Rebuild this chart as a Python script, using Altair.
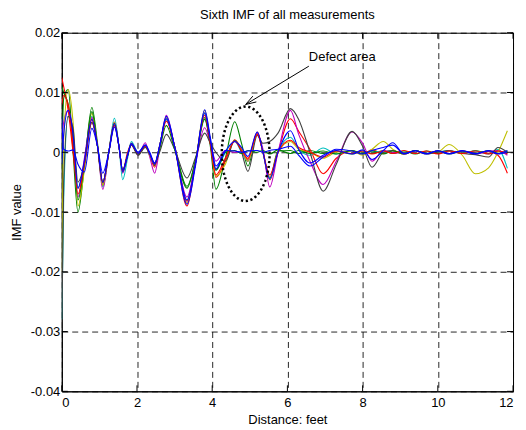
import math
import altair as alt
import pandas as pd

X = [0.00, 0.05, 0.17, 0.30, 0.43, 0.60, 0.80, 0.95, 1.09, 1.25,
     1.40, 1.52, 1.62, 1.75, 1.85, 2.03, 2.22, 2.34, 2.47, 2.60,
     2.78, 3.00, 3.33, 3.55, 3.80, 3.95, 4.10, 4.35, 4.60, 4.78,
     4.95, 5.20, 5.35, 5.53, 5.75, 6.08, 6.30, 6.60, 6.95, 7.30,
     7.72, 8.00, 8.25, 8.55, 8.80, 9.10, 9.40, 9.70, 10.00, 10.30,
     10.65, 11.00, 11.35, 11.60, 11.85]

# IMF values in units of 1e-3
green_a = [-3.0, 9.0, 10.5, 0.0, -10.0, -2.5, 7.5, 1.5, -5.5, 0.0,
           5.0, 1.0, -3.3, -0.5, 1.5, -0.3, 1.0, -0.5, -2.2, 1.0,
           5.5, 1.0, -5.7, -1.5, 5.8, 1.0, -6.2, -1.0, 5.1, 1.5,
           -2.3, 3.2, 0.0, -4.3, 0.2, 0.3, -0.2, 0.3, -0.2, 0.2,
           -0.3, 0.2, -0.2, 0.3, -0.2, 0.2, -0.3, 0.2, -0.2, 0.2,
           -0.2, 0.3, -0.2, 0.2, -0.3]
red_a = [12.5, 11.0, 7.0, 0.0, -6.0, -2.0, 5.0, 1.0, -5.5, 0.0,
         5.0, 1.0, -3.0, 0.0, 1.3, 0.0, 1.0, -0.5, -2.5, 1.0,
         5.5, 1.0, -9.0, -2.0, 6.5, 1.5, -4.2, -1.5, 2.1, 0.5,
         -1.2, 3.4, 0.0, -4.6, 0.0, 5.6, 3.5, 0.5, -3.6, -1.0,
         0.3, -0.3, 0.4, -0.2, 0.3, -0.3, 0.2, -0.3, 0.1, -0.2,
         0.2, -0.2, 0.1, -0.5, -3.5]
cyan_a = [-28.0, -8.0, 6.0, 3.0, -6.0, -1.5, 6.0, 1.0, -5.8, 0.0,
          5.7, 1.0, -4.6, -1.0, 1.8, 0.0, 1.0, -0.5, -2.0, 1.0,
          5.5, 1.0, -8.0, -2.0, 6.5, 2.0, -3.0, 0.0, 1.8, 0.0,
          -1.5, 3.3, 0.0, -4.5, 0.0, 2.5, 0.5, -0.5, 0.7, -0.3,
          0.3, -0.3, 0.2, 0.0, 0.3, -0.2, 0.3, -0.3, 0.0, 0.3,
          -0.2, 0.2, -0.3, 0.5, -2.7]
magenta_a = [2.0, 5.0, 7.0, 3.0, -7.5, -1.0, 5.8, 1.0, -6.2, 0.0,
             5.0, 1.0, -3.5, -0.3, 1.5, -0.5, 1.6, -0.8, -3.5, 0.5,
             6.2, 1.0, -7.5, -2.0, 4.1, 1.5, -1.5, 0.3, 0.0, 0.1,
             -1.5, 3.2, 0.5, -5.8, 0.0, 7.0, 3.0, -1.5, -5.4, -1.5,
             3.4, 1.5, -1.5, 0.3, 0.0, -0.2, 0.3, -0.2, 0.2, -0.2,
             0.2, -0.3, 0.2, 0.3, -0.5]
yellow_a = [-20.0, 2.0, 10.5, 5.0, -9.0, -3.0, 6.5, 1.0, -5.5, 0.0,
            5.0, 1.0, -3.3, -0.5, 1.5, -0.2, 1.2, -0.5, -2.0, 1.0,
            5.8, 1.0, -8.5, -2.0, 7.0, 2.0, -4.0, -2.0, 2.0, 0.5,
            -1.5, 3.0, 0.0, -4.2, 0.0, 1.8, 0.5, 0.0, -1.0, 0.0,
            0.2, -0.5, 0.5, 1.8, 0.5, -0.3, 0.3, -0.2, 0.0, 1.3,
            -0.5, -3.6, -2.6, 0.0, 3.6]
black_a = [-30.0, -5.0, 6.0, 4.0, -5.0, -2.0, 5.0, 1.0, -5.0, 0.0,
           4.5, 1.0, -3.0, -0.5, 1.2, -0.5, 0.8, -0.3, -1.8, 0.0,
           3.0, 0.5, -4.3, -1.0, 3.2, 1.5, 0.0, -1.5, 2.0, 0.0,
           -3.2, 2.8, 1.5, 1.8, 3.2, 7.3, 5.5, 0.0, -6.5, -2.0,
           3.5, 1.0, -2.5, 0.0, 0.3, -0.3, 0.3, -0.2, 0.0, 0.3,
           -0.2, -0.4, -0.8, 0.8, 0.0]
green_b = [11.0, 10.0, 8.0, 2.0, -8.0, -2.0, 6.8, 1.0, -5.0, 0.0,
           4.8, 1.0, -3.0, -0.5, 1.4, -0.3, 1.0, -0.3, -2.0, 0.5,
           4.5, 0.5, -6.0, -1.5, 5.5, 1.5, -3.0, 0.0, 0.3, -0.2,
           0.3, 0.0, 0.3, -0.3, 0.4, -0.2, 0.3, -0.2, 0.2, -0.3,
           0.3, -0.2, 0.2, -0.3, 0.2, -0.2, 0.3, -0.2, 0.2, -0.3,
           0.2, -0.2, 0.3, -0.2, 0.2]
red_b = [8.0, 9.5, 8.0, 1.0, -7.0, -2.0, 5.5, 1.0, -5.0, 0.0,
         4.5, 1.0, -3.2, -0.5, 1.3, -0.2, 1.0, -0.3, -2.0, 1.0,
         5.2, 1.0, -8.2, -2.0, 6.2, 1.5, -3.8, -1.0, 1.8, 0.3,
         -1.0, 3.0, 0.0, -3.8, 0.0, 2.0, 0.8, 0.0, -0.8, 0.2,
         -0.2, 0.2, -0.3, 0.2, -0.2, 0.3, -0.2, 0.2, -0.3, 0.2,
         -0.2, 0.2, -0.3, 0.2, -0.2]
blue_b = [-2.0, 3.0, 7.0, 3.0, -6.0, -1.5, 5.5, 1.0, -5.0, 0.0,
          4.8, 1.0, -3.3, -0.5, 1.5, -0.2, 1.2, -0.3, -2.0, 1.0,
          5.6, 1.0, -8.0, -2.0, 6.6, 2.0, -2.8, 0.3, 0.2, 0.0,
          0.2, 0.3, 0.0, 0.3, 0.5, 1.0, -0.5, -2.3, -0.8, 0.5,
          0.2, -0.3, 0.3, 0.8, 1.2, -0.2, 0.2, -0.3, 0.3, -0.2,
          0.2, -0.3, 0.3, -0.2, 0.3]
blue_a = [6.0, 0.5, 0.2, 0.4, -2.0, -3.3, 4.0, 1.0, -3.5, 0.0,
          4.2, 1.0, -3.0, -0.5, 1.3, 0.0, 1.2, 0.0, -1.8, 1.0,
          6.0, 1.0, -8.7, -2.5, 7.1, 2.5, -2.3, 0.2, 1.8, 0.8,
          -0.7, 3.4, 0.0, -4.4, 0.0, 3.6, 0.5, -1.8, -0.5, 0.3,
          -0.3, 0.4, -1.2, 0.3, 1.6, -0.3, 0.3, -0.2, 0.2, -0.3,
          0.3, -0.2, 0.2, -0.3, 0.0]

SERIES = [
    ("01 green", "#008000", green_a),
    ("02 red", "#ff0000", red_a),
    ("03 cyan", "#00bfbf", cyan_a),
    ("04 magenta", "#bf00bf", magenta_a),
    ("05 yellow", "#bfbf00", yellow_a),
    ("06 black", "#404040", black_a),
    ("07 green", "#008000", green_b),
    ("08 red", "#ff0000", red_b),
    ("09 blue", "#0000ff", blue_b),
    ("10 blue", "#0000ff", blue_a),
]

X_TICKS = [0, 2, 4, 6, 8, 10, 12]
Y_TICKS = [-0.04, -0.03, -0.02, -0.01, 0, 0.01, 0.02]

# Annotation: dotted ellipse around the defect and an arrow from the label
ELL_CX, ELL_CY, ELL_RX, ELL_RY = 4.89, -0.00025, 0.636, 0.0079
LABEL_X, LABEL_Y = 6.57, 0.0160
ARROW_FROM = (6.57, 0.0144)
ARROW_TO = (4.89, 0.0080)

W, H = 453, 360
PX_X = W / 12.0
PX_Y = H / 0.06

rows = []
for name, color, vals in SERIES:
    for x, v in zip(X, vals):
        rows.append({"x": x, "y": v / 1000.0, "s": name})
df = pd.DataFrame(rows)

font = "Liberation Sans"
fs = 13

xs = alt.Scale(domain=[0, 12], nice=False, zero=False)
ys = alt.Scale(domain=[-0.04, 0.02], nice=False, zero=False)

lines = alt.Chart(df).mark_line(interpolate="monotone", strokeWidth=1.1, clip=True).encode(
    x=alt.X("x:Q", scale=xs, axis=alt.Axis(values=X_TICKS, title="Distance: feet",
                                           labelPadding=5, titlePadding=4)),
    y=alt.Y("y:Q", scale=ys, axis=alt.Axis(values=Y_TICKS, title="IMF value",
                                           labelExpr="'' + datum.value",
                                           labelPadding=2, titlePadding=7)),
    color=alt.Color("s:N", scale=alt.Scale(domain=[s[0] for s in SERIES],
                                           range=[s[1] for s in SERIES]), legend=None),
)

# ellipse outline
ell = []
for i in range(0, 73):
    t = 2 * math.pi * i / 72
    ell.append({"i": i, "x": ELL_CX + ELL_RX * math.cos(t), "y": ELL_CY + ELL_RY * math.sin(t)})
ellipse = alt.Chart(pd.DataFrame(ell)).mark_line(
    color="black", strokeWidth=2.5, strokeDash=[2.2, 2.6], strokeCap="butt"
).encode(x=alt.X("x:Q", scale=xs), y=alt.Y("y:Q", scale=ys), order="i:Q")

# arrow shaft and head
ax0, ay0 = ARROW_FROM
ax1, ay1 = ARROW_TO
dxp = (ax1 - ax0) * PX_X
dyp = -(ay1 - ay0) * PX_Y
L = math.hypot(dxp, dyp)
ux, uy = -dxp / L, -dyp / L
head = []
for k, sgn in enumerate([1, -1]):
    a = math.radians(18) * sgn
    hx = (ux * math.cos(a) - uy * math.sin(a)) * 11
    hy = (ux * math.sin(a) + uy * math.cos(a)) * 11
    head.append({"g": f"h{k}", "o": 0, "x": ax1, "y": ay1})
    head.append({"g": f"h{k}", "o": 1, "x": ax1 + hx / PX_X, "y": ay1 - hy / PX_Y})
arrow_rows = [{"g": "shaft", "o": 0, "x": ax0, "y": ay0},
              {"g": "shaft", "o": 1, "x": ax1, "y": ay1}] + head
arrow = alt.Chart(pd.DataFrame(arrow_rows)).mark_line(color="black", strokeWidth=1).encode(
    x=alt.X("x:Q", scale=xs), y=alt.Y("y:Q", scale=ys), detail="g:N", order="o:Q")

label = alt.Chart(pd.DataFrame([{"x": LABEL_X, "y": LABEL_Y, "t": "Defect area"}])).mark_text(
    align="left", baseline="middle", font=font, fontSize=fs, color="black"
).encode(x=alt.X("x:Q", scale=xs), y=alt.Y("y:Q", scale=ys), text="t:N")

# inward ticks (MATLAB style box)
TL = 6
xt = pd.DataFrame({"x": X_TICKS})
yt = pd.DataFrame({"y": Y_TICKS})
tick_b = alt.Chart(xt).mark_rule(color="black").encode(
    x=alt.X("x:Q", scale=xs), y=alt.value(H), y2=alt.value(H - TL))
tick_t = alt.Chart(xt).mark_rule(color="black").encode(
    x=alt.X("x:Q", scale=xs), y=alt.value(0), y2=alt.value(TL))
tick_l = alt.Chart(yt).mark_rule(color="black").encode(
    y=alt.Y("y:Q", scale=ys), x=alt.value(0), x2=alt.value(TL))
tick_r = alt.Chart(yt).mark_rule(color="black").encode(
    y=alt.Y("y:Q", scale=ys), x=alt.value(W), x2=alt.value(W - TL))

chart = alt.layer(lines, ellipse, arrow, label, tick_b, tick_t, tick_l, tick_r).properties(
    width=W, height=H,
    background="white",
    title=alt.TitleParams("Sixth IMF of all measurements", font=font, fontSize=fs,
                          fontWeight="normal", anchor="middle", offset=5, color="black"),
    autosize=alt.AutoSizeParams(type="none"),
    padding={"left": 54, "top": 24, "right": 5, "bottom": 36},
).configure_view(
    stroke="black", strokeWidth=1
).configure_axis(
    labelFont=font, labelFontSize=fs, labelColor="black",
    titleFont=font, titleFontSize=fs, titleColor="black", titleFontWeight="normal",
    ticks=False, domainColor="black", domainWidth=1,
    grid=True, gridColor="black", gridDash=[6, 4], gridWidth=1, gridOpacity=0.85,
)

chart.save("out.html", embed_options={"renderer": "svg", "actions": False})
